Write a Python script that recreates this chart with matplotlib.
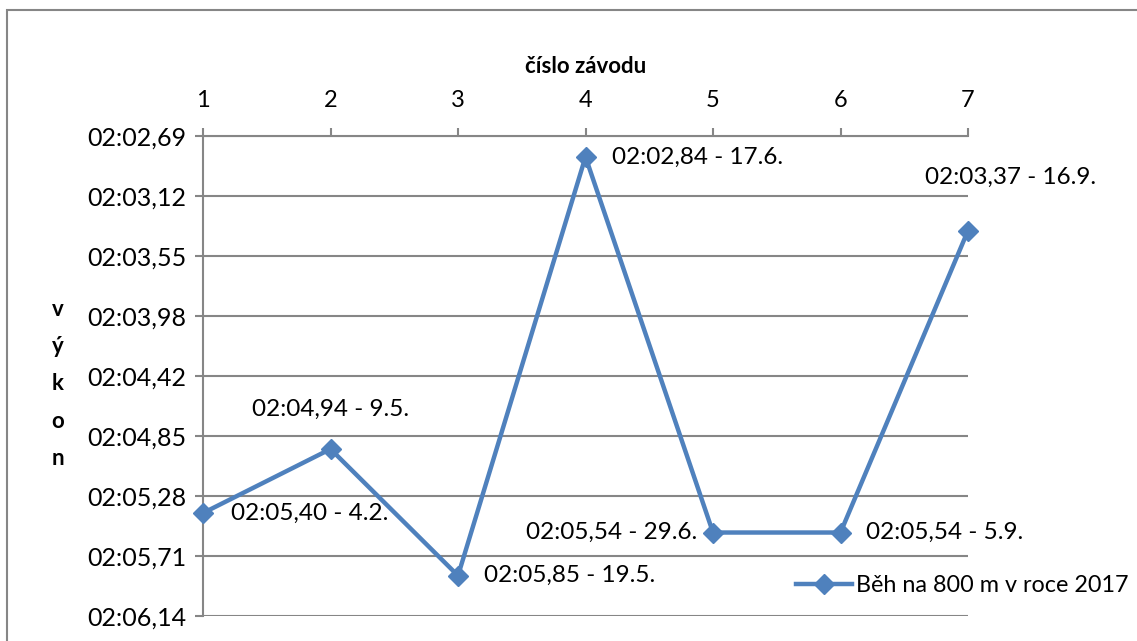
import matplotlib.pyplot as plt
import numpy as np
from matplotlib.patches import Rectangle

plt.rcParams["font.family"] = ["Lato", "DejaVu Sans"]

# data
races = [1, 2, 3, 4, 5, 6, 7]
times_s = [125.40, 124.94, 125.85, 122.84, 125.54, 125.54, 123.37]
point_labels = [
    "02:05,40 - 4.2.",
    "02:04,94 - 9.5.",
    "02:05,85 - 19.5.",
    "02:02,84 - 17.6.",
    "02:05,54 - 29.6.",
    "02:05,54 - 5.9.",
    "02:03,37 - 16.9.",
]
ytick_labels = ["02:02,69", "02:03,12", "02:03,55", "02:03,98", "02:04,42",
                "02:04,85", "02:05,28", "02:05,71", "02:06,14"]
series_name = "Běh na 800 m v roce 2017"

ymin, ymax = 122.69, 126.14
yticks = np.linspace(ymin, ymax, len(ytick_labels))

W, H = 1137, 641
fig = plt.figure(figsize=(W / 100, H / 100), dpi=100)
ax = fig.add_axes([203 / W, 1 - 616 / H, (968 - 203) / W, (616 - 136) / H])

grey = "#868686"
blue = "#4F81BD"

ax.plot(races, times_s, color=blue, lw=3.2, marker="D", ms=10,
        markerfacecolor=blue, markeredgecolor=blue, label=series_name,
        zorder=3, clip_on=False)

ax.set_xlim(1, 7)
ax.set_ylim(ymax, ymin)
ax.set_yticks(yticks)
ax.set_yticklabels(ytick_labels)
ax.set_xticks(races)
ax.xaxis.tick_top()
ax.xaxis.set_label_position("top")
ax.set_xlabel("číslo závodu", fontsize=16, fontweight="bold", labelpad=12)

ax.tick_params(axis="x", length=6, width=1.5, color=grey, pad=12, labelsize=17)
ax.tick_params(axis="y", length=6, width=1.5, color=grey, pad=6, labelsize=18)
ax.grid(axis="y", color=grey, lw=1.5)
ax.set_axisbelow(True)
for side in ["right", "bottom"]:
    ax.spines[side].set_visible(False)
for side in ["left", "top"]:
    ax.spines[side].set_color(grey)
    ax.spines[side].set_linewidth(1.5)

# point labels
offsets = [(28, 0, "left", "center"), (0, 40, "center", "center"),
           (26, 0, "left", "center"), (26, 0, "left", "center"),
           (-16, 0, "right", "center"), (26, 0, "left", "center"),
           (43, 53, "center", "center")]
for x, y, txt, (dx, dy, ha, va) in zip(races, times_s, point_labels, offsets):
    ax.annotate(txt, (x, y), xytext=(dx, dy), textcoords="offset pixels",
                ha=ha, va=va, fontsize=17.5, annotation_clip=False)

fig.text(58 / W, 1 - 384 / H, "v\ný\nk\no\nn", ha="center", va="center",
         fontsize=16, fontweight="bold", linespacing=1.95)

leg = fig.legend(loc="center left", bbox_to_anchor=(796 / W, 1 - 586 / H),
                 frameon=False, fontsize=16.8, handlelength=2.4,
                 handletextpad=0.15, borderpad=0, borderaxespad=0)

fig.patches.append(Rectangle((7 / W, -0.1), 1.2, 1.1 - 10 / H,
                             transform=fig.transFigure, fill=False,
                             edgecolor=grey, lw=1.5))

fig.savefig("out.png", dpi=100)
